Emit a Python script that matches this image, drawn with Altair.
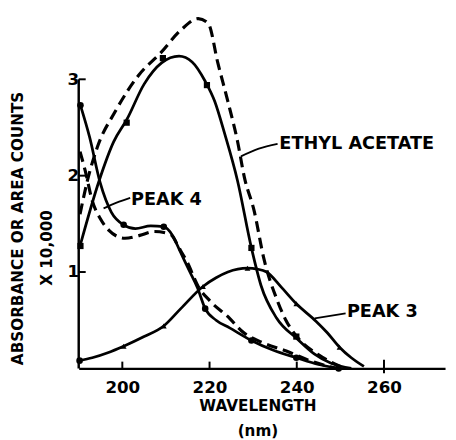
import altair as alt
import pandas as pd

# ---- data ----
# Ethyl acetate (solid curve)
ea_solid_wl = [190.3, 194.7, 198, 201, 205, 209, 213, 216, 219, 221.2, 223.5, 226.4, 229.6, 231.8, 235.4, 240, 244, 248, 252.5]
ea_solid_val = [1.27, 1.95, 2.35, 2.58, 2.95, 3.17, 3.24, 3.18, 2.98, 2.77, 2.43, 1.95, 1.25, 0.86, 0.52, 0.31, 0.15, 0.05, 0.0]
# Ethyl acetate (dashed curve)
ea_dash_wl = [190.3, 192, 194.3, 198.3, 203.7, 208.9, 213.4, 217.4, 219.7, 221.9, 224.2, 226.4, 228, 230.2, 232.5, 235.4, 237.5, 240, 245, 250]
ea_dash_val = [1.6, 1.95, 2.3, 2.66, 3.04, 3.28, 3.51, 3.63, 3.58, 3.17, 2.77, 2.36, 1.98, 1.64, 1.13, 0.72, 0.5, 0.33, 0.14, 0.02]
# Peak 4 (solid)
p4_solid_wl = [190.4, 192.5, 194.9, 197.5, 200.3, 203, 206.5, 209.5, 211.5, 213.4, 215.5, 217.2, 219, 221.5, 224.6, 229.6, 234.5, 239.9, 245, 249.6]
p4_solid_val = [2.73, 2.4, 1.93, 1.62, 1.49, 1.45, 1.48, 1.47, 1.38, 1.2, 1.0, 0.84, 0.62, 0.5, 0.42, 0.29, 0.19, 0.11, 0.04, 0.0]
# Peak 4 (dashed)
p4_dash_wl = [190.3, 191.5, 193.1, 195, 197, 198.8, 200.6, 204, 207.3, 211.1, 213, 214.9, 217.4, 220.1, 224.6, 227.3, 232, 237.6, 243, 249]
p4_dash_val = [2.25, 2.05, 1.74, 1.55, 1.43, 1.37, 1.35, 1.38, 1.42, 1.39, 1.25, 1.1, 0.85, 0.70, 0.52, 0.39, 0.27, 0.18, 0.08, 0.0]
# Peak 3 (solid)
p3_wl = [190.2, 193.1, 196.5, 200.3, 205, 209.5, 213.4, 218.5, 221.5, 224.2, 228.7, 231, 233.1, 236.5, 239.9, 244.4, 247, 249.8, 252.5, 255.4]
p3_val = [0.08, 0.11, 0.16, 0.23, 0.33, 0.44, 0.62, 0.85, 0.94, 1.0, 1.04, 1.03, 1.0, 0.84, 0.67, 0.49, 0.37, 0.22, 0.11, 0.02]

# measured points (markers)
ea_pts_wl = [190.4, 201, 209.3, 219.4, 229.6, 239.9]
ea_pts_val = [1.27, 2.55, 3.22, 2.94, 1.25, 0.33]
p4_pts_wl = [190.4, 200.3, 209.5, 219, 229.6, 239.9, 249.6]
p4_pts_val = [2.73, 1.49, 1.47, 0.62, 0.29, 0.11, 0.0]
p3_pts_wl = [200.3, 209.5, 218.5, 228.7, 239.9, 249.8]
p3_pts_val = [0.23, 0.44, 0.85, 1.04, 0.67, 0.22]
p3_start_wl = [190.2]
p3_start_val = [0.08]

# annotations
ann_text = ["ETHYL ACETATE", "PEAK 4", "PEAK 3"]
ann_wl = [236.0, 202.0, 251.5]
ann_val = [2.33, 1.75, 0.58]
leader_id = ["ea", "ea", "ea", "p4", "p4", "p4", "p3", "p3"]
leader_wl = [227.2, 231.3, 235.6, 195.7, 198.7, 201.8, 244.1, 251.2]
leader_val = [2.20, 2.28, 2.33, 1.66, 1.72, 1.77, 0.52, 0.57]

# axis titles
y_title = "ABSORBANCE OR AREA COUNTS"
y_title2 = "X 10,000"
y_title2_wl = [182.8]   # placed left of the axis, in data units
y_title2_val = [1.25]
x_title = ["WAVELENGTH", "(nm)"]

# axis ticks
x_ticks = [200, 220, 240, 260]
y_ticks = [1, 2, 3]
x_min, x_max = 190, 274
y_min, y_max = 0, 3.7

FONT = "DejaVu Sans"

def frame(wl, val, name):
    return pd.DataFrame({"wl": wl, "val": val, "series": name})

solid_df = pd.concat([
    frame(ea_solid_wl, ea_solid_val, "ea"),
    frame(p4_solid_wl, p4_solid_val, "p4"),
    frame(p3_wl, p3_val, "p3"),
])
dash_df = pd.concat([
    frame(ea_dash_wl, ea_dash_val, "ea"),
    frame(p4_dash_wl, p4_dash_val, "p4"),
])

xs = alt.Scale(domain=[x_min, x_max], nice=False, zero=False)
ys = alt.Scale(domain=[y_min, y_max], nice=False, zero=False)

x_enc = alt.X(
    "wl:Q", scale=xs,
    axis=alt.Axis(
        values=x_ticks, ticks=False, grid=False, domain=True, format="d",
        domainColor="black", domainWidth=2.5,
        labelFont=FONT, labelFontWeight="bold", labelFontSize=17,
        labelColor="black", labelPadding=12,
        title=x_title, titleFont=FONT, titleFontWeight="bold",
        titleFontSize=15.5, titleColor="black", titleX=182, titleY=31,
        titleAlign="center", titleBaseline="top", titleLineHeight=25,
    ),
)
y_enc = alt.Y(
    "val:Q", scale=ys,
    axis=alt.Axis(
        values=y_ticks, ticks=False, grid=False, domain=False, format="d",
        labelFont=FONT, labelFontWeight="bold", labelFontSize=17,
        labelColor="black", labelPadding=0,
        title=y_title,
        titleFont=FONT, titleFontWeight="bold", titleFontSize=15.5,
        titleColor="black", titleAngle=270, titleX=-62, titleY=220,
        titleAlign="center", titleBaseline="middle",
    ),
)

solid = alt.Chart(solid_df).mark_line(
    color="black", strokeWidth=2.8, interpolate="monotone"
).encode(x=x_enc, y=y_enc, detail="series:N")

dashed = alt.Chart(dash_df).mark_line(
    color="black", strokeWidth=3.2, strokeDash=[11, 6], interpolate="monotone"
).encode(x="wl:Q", y="val:Q", detail="series:N")

sq = alt.Chart(pd.DataFrame({"wl": ea_pts_wl, "val": ea_pts_val})).mark_point(
    shape="square", filled=True, color="black", size=40, opacity=1
).encode(x="wl:Q", y="val:Q")
ci = alt.Chart(pd.DataFrame({"wl": p4_pts_wl + p3_start_wl, "val": p4_pts_val + p3_start_val})).mark_point(
    shape="circle", filled=True, color="black", size=45, opacity=1
).encode(x="wl:Q", y="val:Q")
tri = alt.Chart(pd.DataFrame({"wl": p3_pts_wl, "val": p3_pts_val})).mark_point(
    shape="triangle-up", filled=True, color="black", size=35, opacity=1
).encode(x="wl:Q", y="val:Q")

# y axis line (drawn to 3 only) and inside ticks
yaxis_line = alt.Chart(pd.DataFrame({"wl": [x_min], "v0": [0], "v1": [max(y_ticks)]})).mark_rule(
    color="black", strokeWidth=2.5
).encode(x="wl:Q", y="v0:Q", y2="v1:Q")
ytick_df = pd.DataFrame({"val": y_ticks, "w0": [x_min] * 3, "w1": [x_min + 1.6] * 3})
ytick = alt.Chart(ytick_df).mark_rule(color="black", strokeWidth=2).encode(
    x="w0:Q", x2="w1:Q", y="val:Q")
xtick_df = pd.DataFrame({"wl": x_ticks, "v0": [0, 0, 0, -0.05], "v1": [0.07, 0.07, 0.07, 0.09]})
xtick = alt.Chart(xtick_df).mark_rule(color="black", strokeWidth=2).encode(
    x="wl:Q", y="v0:Q", y2="v1:Q")

leaders = alt.Chart(pd.DataFrame({"wl": leader_wl, "val": leader_val, "id": leader_id})).mark_line(
    color="black", strokeWidth=1.8, interpolate="monotone"
).encode(x="wl:Q", y="val:Q", detail="id:N")

labels = alt.Chart(pd.DataFrame({"wl": ann_wl, "val": ann_val, "t": ann_text})).mark_text(
    align="left", baseline="middle", font=FONT, fontWeight="bold", fontSize=18, color="black"
).encode(x="wl:Q", y="val:Q", text="t:N")

ytitle2 = alt.Chart(pd.DataFrame({"wl": y_title2_wl, "val": y_title2_val, "t": [y_title2]})).mark_text(
    align="center", baseline="middle", angle=270, font=FONT, fontWeight="bold",
    fontSize=15.5, color="black", clip=False
).encode(x="wl:Q", y="val:Q", text="t:N")

chart = alt.layer(
    solid, dashed, sq, ci, tri, yaxis_line, ytick, xtick, leaders, labels, ytitle2
).properties(
    width=373, height=363,
    background="white",
    autosize=alt.AutoSizeParams(type="none"),
    padding={"left": 72, "top": 0, "right": 3, "bottom": 69},
).configure_view(strokeWidth=0)

chart.save("out.html", embed_options={"renderer": "svg", "actions": False})
